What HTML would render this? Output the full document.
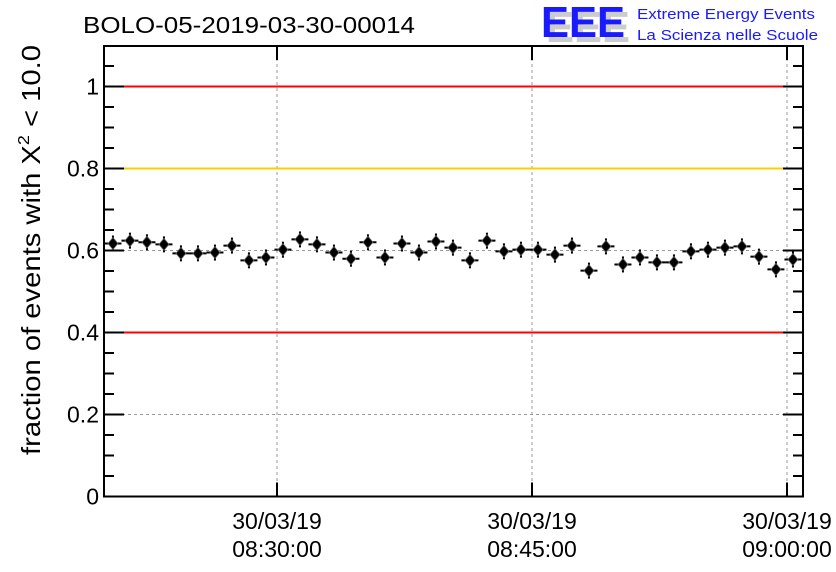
<!DOCTYPE html>
<html><head><meta charset="utf-8"><style>
body{margin:0;background:#fff;}
svg{display:block;font-family:"Liberation Sans",sans-serif;}
</style></head><body>
<svg id="chart" width="836" height="572" viewBox="0 0 836 572">
<rect width="836" height="572" fill="#fff"/>
<text x="83" y="33" font-size="23" textLength="332" lengthAdjust="spacingAndGlyphs">BOLO-05-2019-03-30-00014</text>
<g>
<text x="546" y="42" font-size="44" font-weight="bold" fill="#ccc" textLength="84" lengthAdjust="spacingAndGlyphs">EEE</text>
<text x="541" y="37" font-size="44" font-weight="bold" fill="#1a1aff" textLength="84" lengthAdjust="spacingAndGlyphs">EEE</text>
<text x="637" y="19" font-size="15" fill="#1a1aff" textLength="178" lengthAdjust="spacingAndGlyphs">Extreme Energy Events</text>
<text x="637" y="40" font-size="15" fill="#1a1aff" textLength="181" lengthAdjust="spacingAndGlyphs">La Scienza nelle Scuole</text>
</g>
<text transform="translate(40,250) rotate(-90)" text-anchor="middle" font-size="26" textLength="410" lengthAdjust="spacingAndGlyphs">fraction of events with X<tspan font-size="16" dy="-11">2</tspan><tspan dy="11"> &lt; 10.0</tspan></text>
<g id="grid"></g><g id="refs"></g><g id="axes"></g><g id="pts"></g>
</svg>
<script>
const tickTimes=[30,45,60];
const tickLabels=["08:30:00","08:45:00","09:00:00"];
const yTicks=[0,0.2,0.4,0.6,0.8,1];
const yTickLabels=["0","0.2","0.4","0.6","0.8","1"];
const refLines=[1,0.8,0.4];
const refColors=["#ff0000","#ffcc00","#ff0000"];
const times=[];for(let i=0;i<41;i++)times.push(20.35+i);
const values=[0.617,0.624,0.620,0.615,0.593,0.593,0.595,0.612,0.576,0.583,0.602,0.627,0.615,0.595,0.580,0.620,0.583,0.617,0.595,0.622,0.607,0.576,0.624,0.598,0.602,0.602,0.590,0.612,0.551,0.610,0.566,0.583,0.571,0.571,0.598,0.602,0.607,0.610,0.585,0.554,0.578];
const X0=104,X1=803,Y0=496.5,Y1=46;
const xs=t=>277+(t-30)*17;
const ys=v=>Y0-v*410;
const NS="http://www.w3.org/2000/svg";
function mk(p,tag,at){const e=document.createElementNS(NS,tag);for(const k in at)e.setAttribute(k,at[k]);p.appendChild(e);return e;}
const grid=document.getElementById('grid'),refs=document.getElementById('refs'),axes=document.getElementById('axes'),pts=document.getElementById('pts');
tickTimes.forEach((t,i)=>{
 const g=mk(grid,'line',{x1:xs(t),x2:xs(t),y1:Y1,y2:Y0,stroke:'#999','stroke-dasharray':'3,3'});
 
 
 mk(axes,'line',{x1:xs(t),x2:xs(t),y1:Y0,y2:Y0-14,stroke:'#000','stroke-width':2});
 mk(axes,'line',{x1:xs(t),x2:xs(t),y1:Y1,y2:Y1+14,stroke:'#000','stroke-width':2});
 const l=mk(axes,'text',{x:xs(t),y:529,'text-anchor':'middle','font-size':23});
 l.textContent='30/03/19';
 
 
 const l2=mk(axes,'text',{x:xs(t),y:557,'text-anchor':'middle','font-size':23});
 l2.textContent=tickLabels[i];
 
 
});
yTicks.forEach((v,i)=>{
 if(v>0&&v<1&&refLines.indexOf(v)<0){const g=mk(grid,'line',{x1:X0,x2:X1,y1:ys(v),y2:ys(v),stroke:'#999','stroke-dasharray':'3,3'});
 
 }
 const l=mk(axes,'text',{x:99,y:ys(v)+8,'text-anchor':'end','font-size':23});
 l.textContent=yTickLabels[i];
 
 
});
for(let k=0;k<=21;k++){const v=k*0.05;const len=(k%4==0)?20:10;
 mk(axes,'line',{x1:X0,x2:X0+len,y1:ys(v),y2:ys(v),stroke:'#000','stroke-width':2});
 mk(axes,'line',{x1:X1,x2:X1-len,y1:ys(v),y2:ys(v),stroke:'#000','stroke-width':2});}
refLines.forEach((v,i)=>{const r=mk(refs,'line',{x1:X0,x2:X1,y1:ys(v),y2:ys(v),stroke:refColors[i],'stroke-width':2});
 
 });
const fr=mk(axes,'rect',{x:X0,y:Y1,width:X1-X0,height:Y0-Y1,fill:'none',stroke:'#000','stroke-width':2});


times.forEach((t,i)=>{const x=xs(t),y=ys(values[i]);
 const g=mk(pts,'g',{});
 
 
 mk(g,'line',{x1:xs(t-0.5),x2:xs(t+0.5),y1:y,y2:y,stroke:'#000','stroke-width':2});
 mk(g,'line',{x1:x,x2:x,y1:y-8,y2:y+8,stroke:'#000','stroke-width':2});
 mk(g,'path',{d:`M${x} ${y-6}L${x+5} ${y}L${x} ${y+6}L${x-5} ${y}Z`,fill:'#000',stroke:'#666','stroke-width':0.8});
});
</script>
</body></html>
